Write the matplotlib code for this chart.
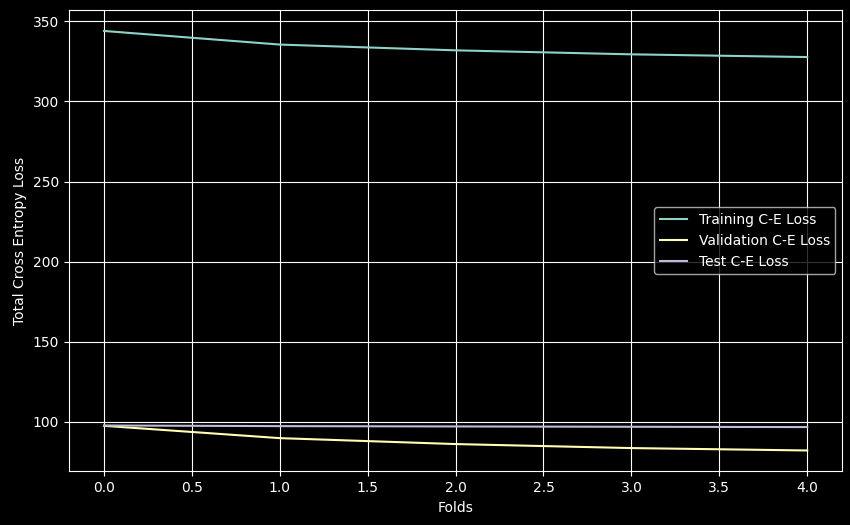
import numpy as np
import matplotlib
matplotlib.use("Agg")
import matplotlib.pyplot as plt

plt.style.use("dark_background")

folds = [0, 1, 2, 3, 4]
train_loss = [344.0, 335.5, 331.9, 329.4, 327.7]
val_loss = [97.5, 89.8, 86.1, 83.6, 82.1]
test_loss = [97.7, 97.3, 97.1, 96.9, 96.7]

fig, ax = plt.subplots(figsize=(8.5, 5.25), dpi=100)
fig.subplots_adjust(left=0.081, right=0.991, top=0.981, bottom=0.102)

ax.plot(folds, train_loss, label="Training C-E Loss")
ax.plot(folds, val_loss, label="Validation C-E Loss")
ax.plot(folds, test_loss, label="Test C-E Loss")

ax.set_xlabel("Folds")
ax.set_ylabel("Total Cross Entropy Loss")
ax.grid(True)
ax.legend(loc="center right")

fig.savefig("out.png")
